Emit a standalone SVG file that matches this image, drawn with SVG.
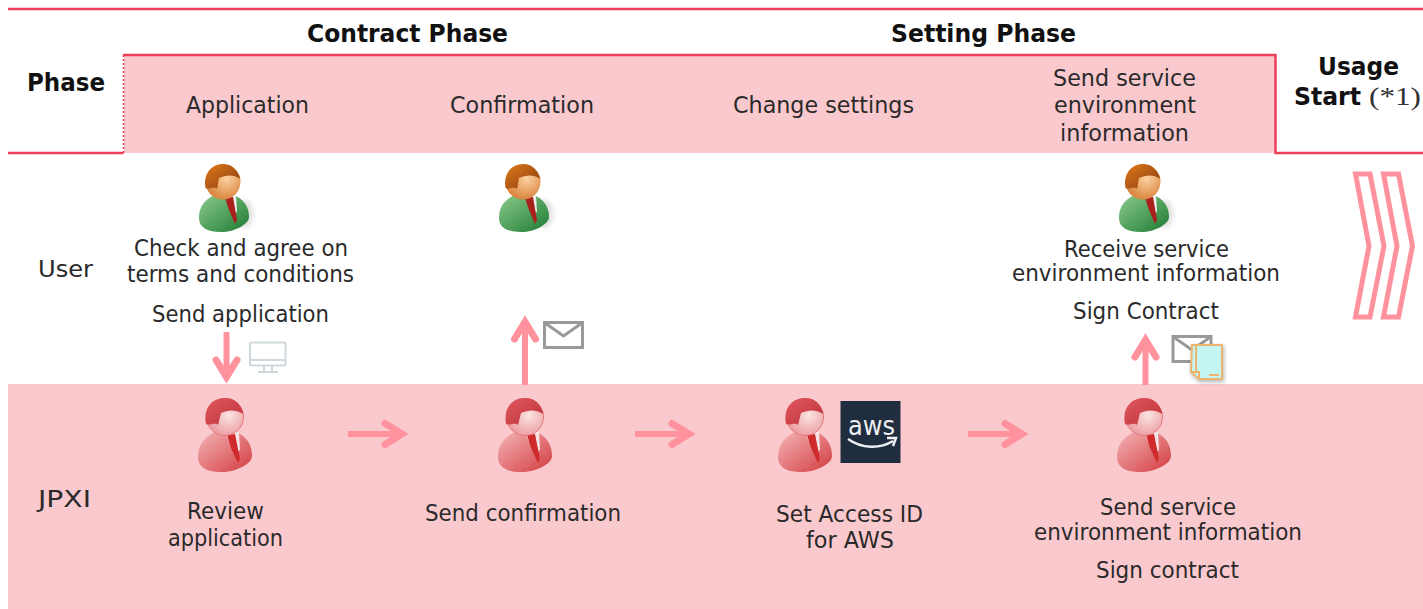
<svg xmlns="http://www.w3.org/2000/svg" width="1423" height="609" viewBox="0 0 1423 609">
<style>
text{font-family:"DejaVu Sans","Noto Sans",sans-serif;font-size:22.5px;fill:#2a2a2a}
.b{font-weight:700;font-size:24px;fill:#111}
.s{font-family:"Liberation Serif",serif;font-size:26px;font-weight:400;fill:#333}
.rule{fill:none;stroke:#ec3f58;stroke-width:2.5}
.arr{fill:none;stroke:#ff929d;stroke-width:6;marker-end:url(#head)}
.chev{fill:#fff;stroke:#ff929d;stroke-width:5}
.mail{fill:#fff;stroke:#999;stroke-width:3}
</style>
<defs>
<marker id="head" markerUnits="userSpaceOnUse" markerWidth="44" markerHeight="40" refX="30" refY="20" orient="auto">
<path d="M12,9.500 L29,20 L12,30.500" fill="none" stroke="#ff929d" stroke-width="7" stroke-linecap="round"/>
</marker>
<filter id="soft" x="-50%" y="-50%" width="200%" height="200%"><feGaussianBlur stdDeviation="2.500"/></filter>
<filter id="drop" x="-20%" y="-20%" width="150%" height="150%"><feDropShadow dx="1" dy="2" stdDeviation="2" flood-opacity=".3"/></filter>
<radialGradient id="skin" cx="0.6" cy="0.4" r="0.7"><stop offset="0" stop-color="#fbd0a0"/><stop offset="1" stop-color="#d67a30"/></radialGradient>
<linearGradient id="hair" x1="0" y1="0" x2="1" y2="1"><stop offset="0" stop-color="#dd7a1a"/><stop offset="1" stop-color="#8a3a10"/></linearGradient>
<linearGradient id="suit" x1="0" y1="0" x2="1" y2="1"><stop offset="0" stop-color="#8ccb8c"/><stop offset="1" stop-color="#1d7a32"/></linearGradient>
<radialGradient id="skinR" cx="0.6" cy="0.45" r="0.7"><stop offset="0" stop-color="#fbe3e3"/><stop offset="1" stop-color="#e88f94"/></radialGradient>
<linearGradient id="hairR" x1="0" y1="0" x2="1" y2="1"><stop offset="0" stop-color="#e0585f"/><stop offset="1" stop-color="#bd3238"/></linearGradient>
<linearGradient id="suitR" x1="0" y1="0" x2="1" y2="1"><stop offset="0" stop-color="#f4b4b6"/><stop offset="1" stop-color="#d23c40"/></linearGradient>
<symbol id="green" viewBox="0 0 58 68" overflow="visible">
<ellipse cx="46" cy="50" rx="8" ry="14" fill="#000" opacity=".12" filter="url(#soft)"/>
<path d="M0,54 C0,42 6,36 15,31 L35,31 C44,35 50,42 50,53 C50,60 36,68 22,68 C9,68 0,64 0,54 Z" fill="url(#suit)"/>
<path d="M25,31 L37,31 L38,48 L33,50 Z" fill="#eee"/>
<path d="M26,34 L34,33 L38,56 L36,60 L30,46 Z" fill="#a8201c"/>
<circle cx="24" cy="18" r="17.500" fill="url(#skin)"/>
<path d="M6.500,24 C4,8 14,0 24,0 C33,0 39,6 41.500,15 C34,10 27,11 20,14 L18,25 C14,22 10,26 6.500,24 Z" fill="url(#hair)"/>
</symbol>
<symbol id="red" viewBox="0 0 58 74" overflow="visible">
<path d="M0,59 C0,46 7,39 17,34 L38,34 C48,38 54,46 54,58 C54,66 38,74 23,74 C10,74 0,70 0,59 Z" fill="url(#suitR)"/>
<path d="M27,34 L41,34 L42,52 L36,56 Z" fill="#f6e4e4"/>
<path d="M29,37 L37,36 L42,61 L40,65 L33,50 Z" fill="#cf2a2c"/>
<circle cx="27" cy="19" r="18.500" fill="url(#skinR)" stroke="#e57a80" stroke-width="1"/>
<path d="M8,26 C5,9 15,0 27,0 C37,0 43,6 45.500,16 C37,11 30,12 23,15 L20,27 C16,24 12,28 8,26 Z" fill="url(#hairR)"/>
</symbol>
</defs>
<rect width="1423" height="609" fill="#fff"/>
<g id="bands">
<rect x="124" y="55" width="1151" height="98" fill="#fac9ce"/>
<rect x="8" y="384" width="1415" height="225" fill="#fac9ce"/>
</g>
<g id="frame">
<path class="rule" d="M8,9 H1423"/>
<path class="rule" d="M123,55 H1275.500 V153 H1423"/>
<path class="rule" d="M8,153 H123.500"/>
<path d="M123.500,55 V153" fill="none" stroke="#ec3f58" stroke-width="1.500" stroke-dasharray="2 2"/>
</g>
<g id="connectors">
<path class="arr" d="M226.500,332 V378"/>
<path class="arr" d="M525,385 V321"/>
<path class="arr" d="M1145.500,385 V339"/>
<path class="arr" d="M348,434 H403"/>
<path class="arr" d="M635,434 H690"/>
<path class="arr" d="M968,434 H1023"/>
</g>
<g id="phase-titles">
<text class="b" x="307" y="42" textLength="201" lengthAdjust="spacingAndGlyphs">Contract Phase</text>
<text class="b" x="891" y="42" textLength="185" lengthAdjust="spacingAndGlyphs">Setting Phase</text>
<text class="b" x="27" y="90.500" textLength="78" lengthAdjust="spacingAndGlyphs">Phase</text>
<text class="b" x="1318" y="75" textLength="81" lengthAdjust="spacingAndGlyphs">Usage</text>
<text x="1294" y="104.500"><tspan class="b" x="1294" textLength="67" lengthAdjust="spacingAndGlyphs">Start</tspan><tspan class="s" x="1369" textLength="52" lengthAdjust="spacingAndGlyphs">(*1)</tspan></text>
</g>
<g id="step-application"><text x="186" y="113" textLength="123" lengthAdjust="spacingAndGlyphs">Application</text></g>
<g id="step-confirmation"><text x="450" y="113" textLength="144" lengthAdjust="spacingAndGlyphs">Confirmation</text></g>
<g id="step-change-settings"><text x="733" y="113" textLength="181" lengthAdjust="spacingAndGlyphs">Change settings</text></g>
<g id="step-send-info">
<text x="1053" y="86" textLength="143" lengthAdjust="spacingAndGlyphs">Send service</text>
<text x="1054" y="113" textLength="142" lengthAdjust="spacingAndGlyphs">environment</text>
<text x="1060" y="141" textLength="129" lengthAdjust="spacingAndGlyphs">information</text>
</g>
<g id="lane-user"><text x="38" y="277" textLength="55" lengthAdjust="spacingAndGlyphs">User</text></g>
<g id="lane-jpxi"><text x="38" y="507" textLength="53" lengthAdjust="spacingAndGlyphs">JPXI</text></g>
<g id="user-application">
<use href="#green" x="199" y="164" width="58" height="68"/>
<text x="134" y="256" textLength="214" lengthAdjust="spacingAndGlyphs">Check and agree on</text>
<text x="127" y="282" textLength="227" lengthAdjust="spacingAndGlyphs">terms and conditions</text>
<text x="152" y="322" textLength="177" lengthAdjust="spacingAndGlyphs">Send application</text>
</g>
<g id="user-confirmation"><use href="#green" x="499" y="164" width="58" height="68"/></g>
<g id="user-receive">
<use href="#green" x="1119" y="164" width="58" height="68"/>
<text x="1064" y="257" textLength="165" lengthAdjust="spacingAndGlyphs">Receive service</text>
<text x="1012" y="281" textLength="268" lengthAdjust="spacingAndGlyphs">environment information</text>
<text x="1073" y="319" textLength="146" lengthAdjust="spacingAndGlyphs">Sign Contract</text>
</g>
<g id="icon-monitor" fill="none" stroke="#cfd8dc" stroke-width="2">
<rect x="250" y="342.500" width="35.500" height="23" rx="1.500" fill="#fff"/>
<path d="M250,360 H285.500 M264,366 V371 M272,366 V371 M258,372 H278"/>
</g>
<g id="icon-mail-1">
<rect class="mail" x="544.500" y="322.500" width="38" height="25"/>
<path class="mail" d="M545,323 L563.500,336 L582,323" style="fill:none"/>
</g>
<g id="icon-mail-doc">
<rect class="mail" x="1173" y="336.500" width="38" height="25"/>
<path class="mail" d="M1173.500,337 L1192,350 L1210.500,337" style="fill:none"/>
<path d="M1192,345 H1222 V379 H1199 L1191,372 Z" fill="#c4f5f2" stroke="#ecb671" stroke-width="2" filter="url(#drop)"/>
<path d="M1196,345 V372 M1191,372 H1199 V379 M1209,375 H1219" fill="none" stroke="#ecb671" stroke-width="2"/>
</g>
<g id="chevrons">
<polygon class="chev" points="1355.500,174 1370,174 1384,246 1370,317 1355.500,317 1369,246"/>
<polygon class="chev" points="1383.500,174 1398.500,174 1412.500,246 1398.500,317 1383.500,317 1397,246"/>
</g>
<g id="jpxi-review">
<use href="#red" x="198" y="398" width="58" height="74"/>
<text x="187" y="519" textLength="77" lengthAdjust="spacingAndGlyphs">Review</text>
<text x="168" y="546" textLength="115" lengthAdjust="spacingAndGlyphs">application</text>
</g>
<g id="jpxi-confirmation">
<use href="#red" x="498" y="398" width="58" height="74"/>
<text x="425" y="521" textLength="196" lengthAdjust="spacingAndGlyphs">Send confirmation</text>
</g>
<g id="jpxi-aws">
<use href="#red" x="778" y="398" width="58" height="74"/>
<rect x="840.500" y="401" width="60" height="62" fill="#1f2d3f"/>
<text x="871.500" y="435" text-anchor="middle" textLength="47" lengthAdjust="spacingAndGlyphs" style="fill:#eef0f2;font-size:27px">aws</text>
<path d="M848,439 C862,449 880,449 893,441 M887,438 L896,438 L893,446" fill="none" stroke="#eef0f2" stroke-width="2.500"/>
<text x="776" y="522" textLength="147" lengthAdjust="spacingAndGlyphs">Set Access ID</text>
<text x="806" y="548" textLength="88" lengthAdjust="spacingAndGlyphs">for AWS</text>
</g>
<g id="jpxi-send-info">
<use href="#red" x="1117" y="398" width="58" height="74"/>
<text x="1100" y="515" textLength="136" lengthAdjust="spacingAndGlyphs">Send service</text>
<text x="1034" y="540" textLength="268" lengthAdjust="spacingAndGlyphs">environment information</text>
<text x="1096" y="578" textLength="143" lengthAdjust="spacingAndGlyphs">Sign contract</text>
</g>
</svg>
